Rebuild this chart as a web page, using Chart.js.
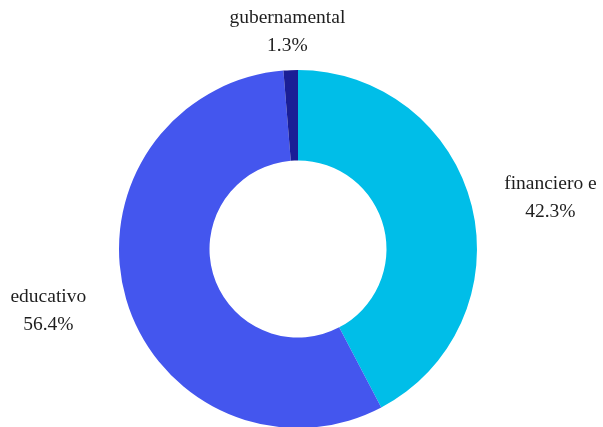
<!DOCTYPE html>
<html>
<head>
<meta charset="utf-8">
<script src="https://cdn.jsdelivr.net/npm/chart.js@4.4.1/dist/chart.umd.min.js"></script>
<style>
  html, body { margin: 0; padding: 0; background: #fff; }
  #wrap { width: 603px; height: 427px; }
</style>
</head>
<body>
<div id="wrap"><canvas id="myChart" width="603" height="427"></canvas></div>
<script>
// values, clockwise from 12 o'clock
const categories = ["financiero e", "educativo", "gubernamental"];
const shares = [42.3, 56.4, 1.3];
const sliceColors = ["rgb(0,190,232)", "rgb(68,86,238)", "rgb(26,30,150)"];

// draw "name / xx.x%" outside every slice, using the arc geometry from the chart
const outsideLabels = {
    id: "outsideLabels",
    afterDatasetsDraw(chart) {
        const ctx = chart.ctx;
        const meta = chart.getDatasetMeta(0);
        const lineH = 28;
        ctx.save();
        ctx.font = "19.5px 'Liberation Serif', 'Times New Roman', serif";
        ctx.fillStyle = "#1e1e1e";
        ctx.textAlign = "center";
        ctx.textBaseline = "middle";
        meta.data.forEach((arc, i) => {
            const p = arc.getProps(["x", "y", "startAngle", "endAngle", "outerRadius"], true);
            const mid = (p.startAngle + p.endAngle) / 2;
            // labels sit on an ellipse a bit wider than the ring
            const tx = p.x + Math.cos(mid) * (p.outerRadius + 81);
            const ty = p.y + Math.sin(mid) * (p.outerRadius + 39) + 1;
            ctx.fillText(categories[i], tx, ty - lineH / 2);
            ctx.fillText(shares[i].toFixed(1) + "%", tx, ty + lineH / 2);
        });
        ctx.restore();
    }
};

new Chart(document.getElementById("myChart"), {
    type: "doughnut",
    data: {
        labels: categories,
        datasets: [{
            data: shares,
            backgroundColor: sliceColors,
            borderWidth: 0
        }]
    },
    options: {
        responsive: false,
        animation: false,
        radius: 179,
        cutout: 88,
        layout: { padding: { top: 71, bottom: 0, left: 0, right: 7 } },
        plugins: {
            legend: { display: false },
            tooltip: { enabled: false }
        }
    },
    plugins: [outsideLabels]
});
</script>
</body>
</html>
